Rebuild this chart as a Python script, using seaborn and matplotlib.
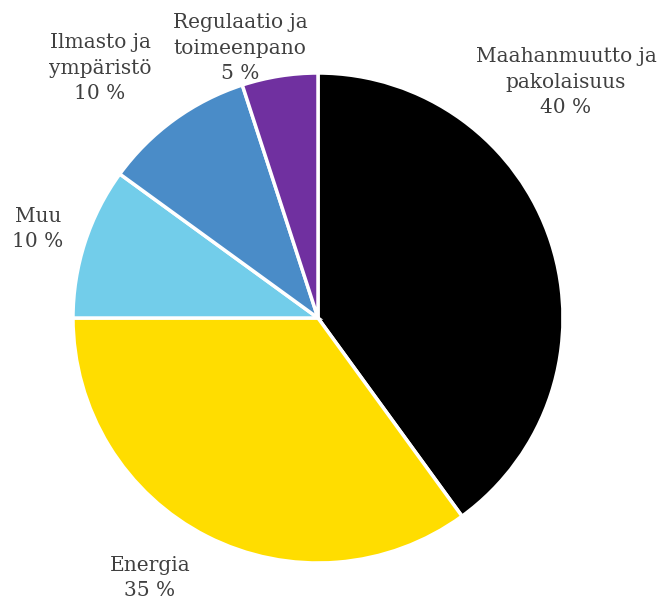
import matplotlib
matplotlib.use("Agg")
import matplotlib.pyplot as plt
import seaborn as sns

# data
categories = ["Maahanmuutto ja\npakolaisuus", "Energia", "Muu",
              "Ilmasto ja\nympäristö", "Regulaatio ja\ntoimeenpano"]
shares = [40, 35, 10, 10, 5]
colors = ["#000000", "#FFDD00", "#72CDEA", "#4A8CC8", "#7030A0"]

# label anchor points (pixels, origin bottom-left) per slice
label_pos = [(566, 522), (150, 26), (38, 375), (100, 536), (240, 556)]

sns.set_theme(style="white")
plt.rcParams['font.family'] = ['DejaVu Serif']

fig = plt.figure(figsize=(6.66, 6.04), dpi=100)
ax = fig.add_axes([0, 0, 1, 1])

ax.pie(shares, colors=colors, startangle=90, counterclock=False,
       center=(318, 286), radius=245,
       wedgeprops={"edgecolor": "white", "linewidth": 2.5})

# pie resets the limits, so set them afterwards
ax.set_xlim(0, 666)
ax.set_ylim(0, 604)
ax.set_aspect("equal")
ax.axis("off")

for name, val, (x, y) in zip(categories, shares, label_pos):
    ax.text(x, y, f"{name}\n{val} %", ha="center", va="center",
            fontsize=14.5, color="#404040", linespacing=1.42)

fig.savefig("out.png", dpi=100)
